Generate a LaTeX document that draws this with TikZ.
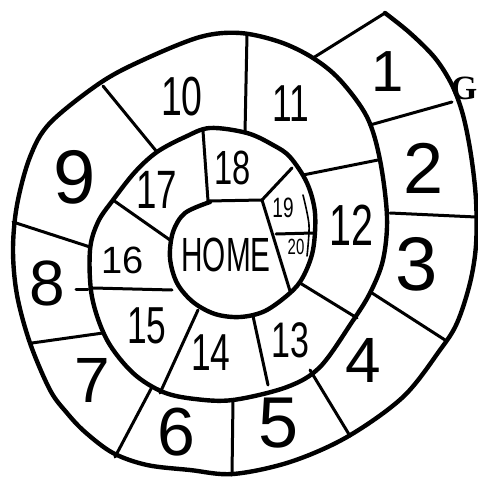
\documentclass[tikz,border=0pt]{standalone}
\usepackage{fontspec}
\setmainfont{Liberation Sans}
\newfontfamily\gfont{Liberation Serif}
\begin{document}
\begin{tikzpicture}[x=1pt,y=-1pt,line join=round,line cap=round,
  curve/.style={line width=4.4pt},
  div/.style={line width=3pt},
  thin/.style={line width=1.6pt},
  lab/.style={font=\fontsize{#1}{#1}\selectfont,inner sep=0pt},
  labtwo/.style={lab=#1,xscale=0.68}]
\useasboundingbox (0,0) rectangle (478,478);
% spiral
\draw[curve] plot[smooth,tension=0.55] coordinates {
 (385,13) (410,33) (435,58) (452,85) (463,115) (471,155) (476,200)
 (476,245) (470,283) (457,323) (440,350) (403,397) (347,437) (290,462)
 (233,474) (190,470) (147,465) (113,453) (85,432) (67,413) (50,390)
 (30,343) (17,295) (13,250) (17,205) (30,157) (50,123) (100,83) (143,60)
 (200,37) (240,33) (280,42) (313,58) (340,80) (367,117) (380,160) (387,217)
 (383,260) (370,293) (352,322) (320,367) (287,387) (233,400) (195,399)
 (163,392) (133,373) (107,340) (92,297) (90,250) (98,222) (113,200)
 (135,172) (157,152) (185,137) (210,128) (247,133) (273,145) (290,157)
 (307,183) (315,213) (313,250) (303,277) (290,293) (265,311) (240,317)
 (215,314) (193,302) (177,283) (170,258) (173,232) (185,213) (210,202)};
% inner thin arc
\draw[thin] plot[smooth] coordinates {(303,195) (309,225) (307,256)};
% dividers
\coordinate (a1) at (313,58);  \coordinate (b1) at (385,13);
\coordinate (a2) at (370,125); \coordinate (b2) at (452,102);
\coordinate (a3) at (390,213); \coordinate (b3) at (476,217);
\coordinate (a4) at (372,293); \coordinate (b4) at (445,340);
\coordinate (a5) at (310,370); \coordinate (b5) at (350,436);
\coordinate (a6) at (233,400); \coordinate (b6) at (232,475);
\coordinate (a7) at (152,387); \coordinate (b7) at (115,457);
\coordinate (a8) at (103,333); \coordinate (b8) at (32,343);
\coordinate (a9) at (90,247);  \coordinate (b9) at (13,222);
\coordinate (a10) at (157,152); \coordinate (b10) at (103,86);
\coordinate (a11) at (245,133); \coordinate (b11) at (247,34);
\coordinate (a12) at (303,175); \coordinate (b12) at (378,160);
\coordinate (a13) at (300,283); \coordinate (b13) at (357,318);
\coordinate (a14) at (253,316); \coordinate (b14) at (268,385);
\coordinate (a15) at (198,310); \coordinate (b15) at (160,393);
\coordinate (a16) at (172,290); \coordinate (b16) at (93,288);
\coordinate (a17) at (170,240); \coordinate (b17) at (113,200);
\coordinate (a18) at (208,201); \coordinate (b18) at (203,131);
\coordinate (c18) at (262,200);
\coordinate (a19) at (292,168);
\coordinate (c19) at (290,291);
\coordinate (d19) at (276,234); \coordinate (e19) at (313,233);
\coordinate (s1) at (76,289); \coordinate (s2) at (88,289);
\foreach \p/\q in {a1/b1,a2/b2,a3/b3,a4/b4,a5/b5,a6/b6,a7/b7,a8/b8,a9/b9,
  a10/b10,a11/b11,a12/b12,a13/b13,a14/b14,a15/b15,a16/b16,a17/b17,a18/b18,
  a18/c18,a19/c18,c18/c19,d19/e19,s1/s2}
  \draw[div] (\p) -- (\q);
% labels
\node[lab=58] (n1) at (388,72) {1};
\node[font=\gfont\bfseries\fontsize{34}{34}\selectfont,inner sep=0pt] (g) at (464,88) {G};
\node[lab=72] (n2) at (424,168) {2};
\node[lab=76] (n3) at (417,264) {3};
\node[lab=64] (n4) at (363,360) {4};
\node[lab=72] (n5) at (279,423) {5};
\node[lab=68] (n6) at (176,432) {6};
\node[lab=64] (n7) at (92,380) {7};
\node[lab=64] (n8) at (47,283) {8};
\node[lab=76] (n9) at (75,177) {9};
\node[labtwo=55] (n10) at (182,97) {10};
\node[labtwo=52] (n11) at (291,104) {11};
\node[labtwo=58] (n12) at (351,225) {12};
\node[labtwo=50] (n13) at (290,340) {13};
\node[labtwo=52] (n14) at (211,353) {14};
\node[labtwo=52] (n15) at (147,326) {15};
\node[lab=38] (n16) at (123,260) {16};
\node[labtwo=54] (n17) at (157,190) {17};
\node[labtwo=48] (n18) at (233,168) {18};
\node[labtwo=28] (n19) at (283,208) {19};
\node[labtwo=22] (n20) at (296,247) {20};
\node[lab=48,xscale=0.62] (home) at (226,255) {HOME};
\end{tikzpicture}
\end{document}
